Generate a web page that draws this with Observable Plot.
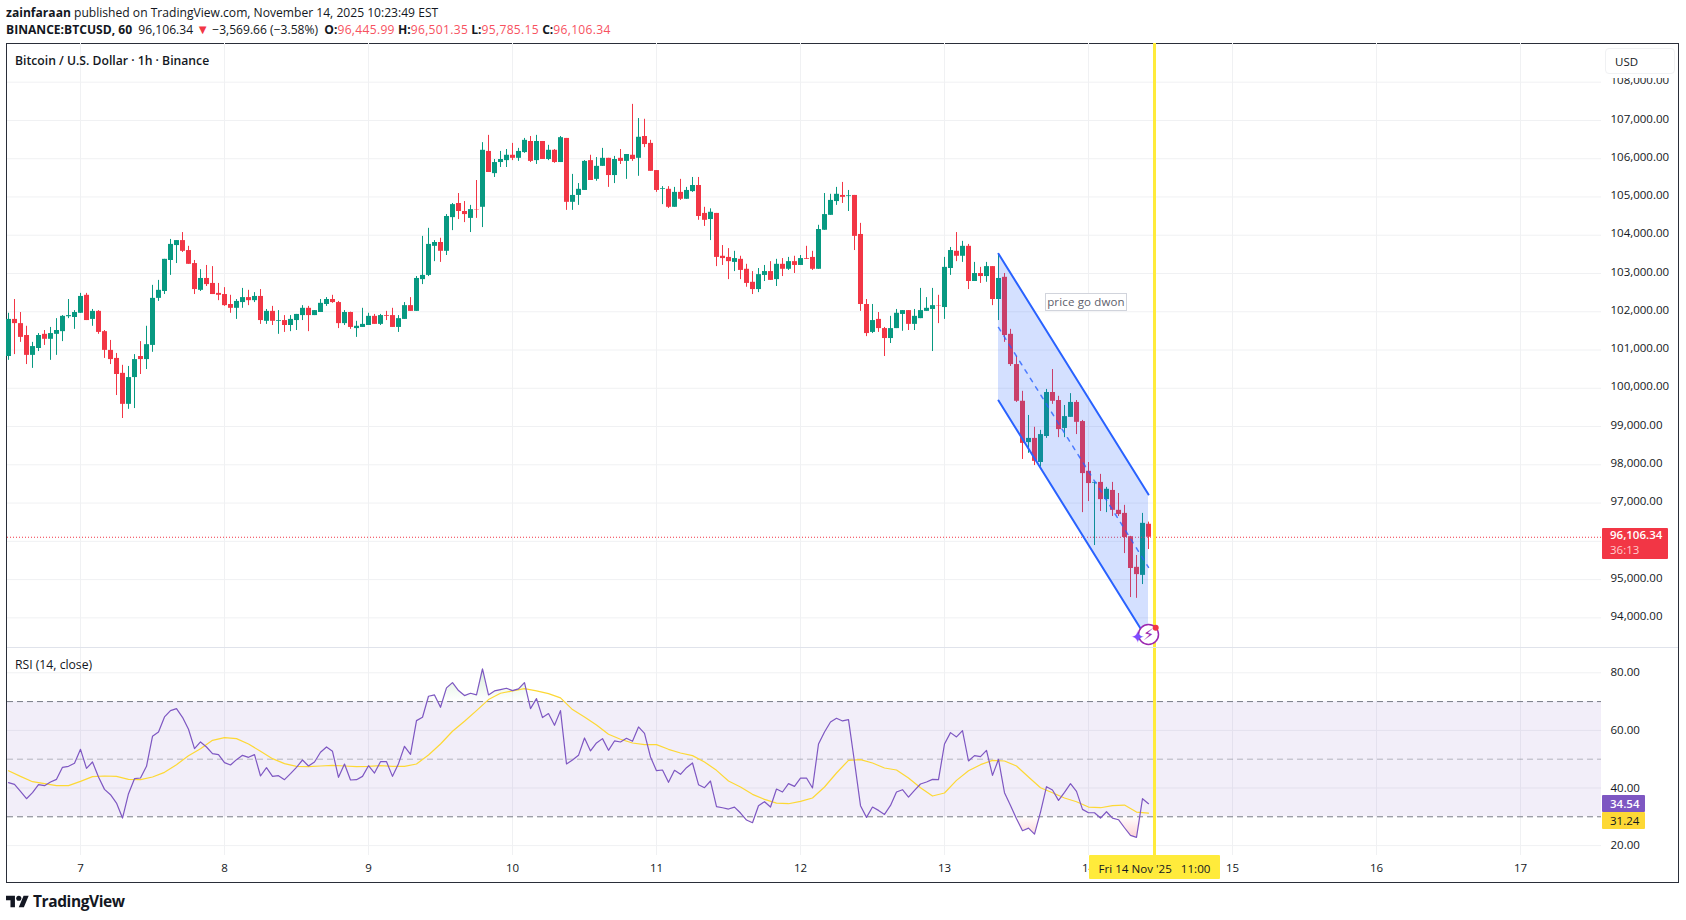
<!DOCTYPE html>
<html>
<head>
<meta charset="utf-8">
<script src="https://cdn.jsdelivr.net/npm/d3@7"></script>
<script src="https://cdn.jsdelivr.net/npm/@observablehq/plot@0.6"></script>
<style>
  html, body { margin: 0; background: #fff; }
  body { width: 1686px; height: 920px; position: relative; overflow: hidden; font-family: "Open Sans", sans-serif; color: #131722; }
  .abs { position: absolute; white-space: pre; }
  .hdr { left: 6px; font-size: 12.1px; line-height: 17px; }
  .hdr b { font-weight: 700; }
  .red { color: #f7525f; letter-spacing: 0.3px; }
  .badge { line-height: 17px; font-size: 11.5px; padding-left: 8px; box-sizing: border-box; border-radius: 1px; }
</style>
</head>
<body>
  <!-- chart frame -->
  <div class="abs" style="left:6px;top:43px;width:1673px;height:840px;box-sizing:border-box;border:1px solid #2a2e39"></div>
  <div id="chart"></div>

  <!-- pane separator -->
  <div class="abs" style="left:7px;top:647px;width:1671px;height:1px;background:#e0e3eb"></div>

  <div class="abs hdr" style="top:4px"><b>zainfaraan</b> published on TradingView.com, November 14, 2025 10:23:49 EST</div>
  <div class="abs hdr" style="top:21px"><b>BINANCE:BTCUSD, 60</b>  96,106.34 <span style="color:#f23645;font-size:13px">▼</span> −3,569.66 (−3.58%)  <b>O:</b><span class="red">96,445.99</span> <b>H:</b><span class="red">96,501.35</span> <b>L:</b><span class="red">95,785.15</span> <b>C:</b><span class="red">96,106.34</span></div>
  <div class="abs" style="left:15px;top:52px;font-size:12.2px;line-height:18px;font-weight:600">Bitcoin / U.S. Dollar · 1h · Binance</div>
  <div class="abs" style="left:15px;top:656px;font-size:12.2px;line-height:18px">RSI (14, close)</div>

  <!-- currency button, covers the top tick like the original -->
  <div class="abs" style="left:1605px;top:48px;width:70px;height:26px;box-sizing:border-box;background:#fff;border:1px solid #f0f1f3;border-radius:4px;box-shadow:0 4px 0 #fff;font-size:11.5px;line-height:26px;padding-left:9px">USD</div>

  <!-- last price tag -->
  <div class="abs" style="left:1602px;top:528px;width:66px;height:31px;background:#f23645;color:#fff;padding-left:8px;box-sizing:border-box;font-size:11.5px;line-height:14.5px;border-radius:1px"><b style="font-weight:600">96,106.34</b>
<span style="color:#fcc">36:13</span></div>

  <!-- rsi tags -->
  <div class="abs badge" style="left:1602px;top:795px;width:43px;height:17px;background:#7e57c2;color:#fff;font-weight:600">34.54</div>
  <div class="abs badge" style="left:1602px;top:812px;width:43px;height:17px;background:#fdd835;color:#131722">31.24</div>

  <!-- drawing label -->
  <div class="abs" style="left:1045px;top:293px;width:82px;height:18px;box-sizing:border-box;background:#fff;border:1px solid #d1d4dc;font-size:11.5px;line-height:16px;text-align:center;letter-spacing:0.15px;color:#5d606b">price go dwon</div>

  <!-- crosshair time tag -->
  <div class="abs" style="left:1089px;top:855px;width:131px;height:24px;background:#ffeb3b;font-size:11.6px;line-height:27px;text-align:center;border-radius:1px">Fri 14 Nov '25   11:00</div>

  <!-- logo -->
  <svg class="abs" style="left:6px;top:895px" width="23" height="13" viewBox="0 4 36 18"><path fill="#131722" d="M14 22H7V11H0V4h14v18zM28 22h-8l7.5-18h8L28 22z"/><circle fill="#131722" cx="20" cy="8" r="4"/></svg>
  <div class="abs" style="left:33px;top:890px;font-size:15.5px;line-height:23px;font-weight:700;letter-spacing:-0.4px">TradingView</div>

<script>
// candles, 1h bars, first bar is 12 hours before the "7" tick
const opens = [
  100830,101800,101690,101380,100860,101040,101410,101280,101410,101480,101870,101850,
  101960,102430,101800,102010,101480,100990,100780,100390,99580,100280,100830,100750,101120,102350,102530,103340,103730,103860,103600,103260,102560,102870,102740,102480,
  102450,102190,102090,102240,102370,102290,102400,101750,102010,101750,101770,101640,101770,101900,102090,101900,101980,102190,102320,102240,101690,101980,101560,101590,
  101640,101880,101670,101900,101900,101590,101800,102160,102010,102840,102950,103710,103810,103580,104460,104830,104620,104440,104670,104730,106190,105610,105900,105950,
  106090,106010,106160,106450,105950,106450,105980,106220,105900,106530,104860,105040,105170,105950,105460,105800,106010,105560,106010,105930,106090,106010,106580,106400,
  105690,105200,105200,104730,105120,104940,105140,105300,104570,104410,104570,103450,103420,103290,103370,103110,102770,102580,102950,103050,102840,103240,103110,103310,
  103210,103390,103420,103110,104130,104520,104880,105040,105010,105040,104020,102190,101460,101800,101560,101300,101560,101930,102030,101670,101820,102010,102060,102160,
  102110,103130,103580,103450,103710,102790,103000,102920,103180,102320,102900,101410,100620,99660,98580,98690,98060,98740,99890,99680,98950,99240,99630,99130,
  97830,97520,97540,97090,97330,96810,96730,96120,95320,95110,96445.99
];
const highs = [
  101960,102320,101980,101620,101200,101430,101510,101590,101820,101900,102320,102030,
  102480,102480,102060,102030,101510,101250,100910,100600,100570,100880,101220,101620,102690,102820,103370,103890,103860,104070,103710,103340,103100,103210,103180,102740,
  102630,102430,102320,102610,102560,102500,102580,102060,102140,102030,101900,101900,101930,102160,102140,102030,102320,102370,102430,102270,102030,101990,101750,102090,
  101960,101930,101930,102010,102090,101900,102240,102370,102920,103970,104180,103860,103920,104540,104830,105090,104880,104780,105430,106420,106610,105980,106190,106240,
  106400,106270,106530,106580,106610,106450,106350,106240,106580,106530,105590,105350,105950,106090,106030,106270,106010,106060,106240,106110,107420,107050,107030,106480,
  105690,105270,105270,105250,105460,105250,105510,105510,104730,104690,104570,103730,103650,103580,103450,103240,103050,103130,103210,103310,103370,103390,103420,103450,
  103470,103710,103580,104260,105090,105070,105250,105380,105170,105040,104310,102320,102190,101980,101590,101880,102060,102030,102030,102060,102610,102370,102610,102430,
  103420,103680,104070,103840,103760,103290,103160,103290,103180,103500,103000,101540,100830,99920,99290,98980,98900,99970,100490,99790,99550,99860,99680,99160,
  98060,97540,97750,97410,97540,97250,96940,96130,95630,96730,96501.35
];
const lows = [
  100730,100880,101200,100620,100520,100960,101120,100730,100860,101220,101820,101540,
  101960,101770,101620,101410,100780,100620,99810,99210,99450,99470,100360,100490,100940,102270,102450,102950,103260,103550,103240,102450,102530,102660,102450,102290,
  102140,101960,101800,102090,102160,102240,101670,101670,101640,101410,101460,101480,101510,101770,101480,101900,101980,102140,102220,101560,101640,101540,101330,101590,
  101640,101670,101640,101770,101590,101460,101800,102010,102010,102710,102920,103310,103290,103470,104120,104410,104330,104070,104440,104200,105640,105510,105770,105770,
  105950,105930,106140,105900,105850,105980,105950,105880,105900,104650,104650,104780,105170,105430,105410,105800,105250,105350,105850,105460,105930,105540,106290,105670,
  105120,104800,104700,104730,104910,104940,105120,104390,104230,103860,103180,103210,102840,103050,102840,102640,102450,102500,102790,102820,102660,102920,103080,103000,
  103210,103370,103080,103110,104130,104520,104780,104830,104620,103600,102010,101350,101430,101460,100830,101170,101560,101490,101510,101510,101820,102010,100960,101690,
  101800,102950,103310,103290,102580,102790,102740,102770,102160,101770,101200,100570,99630,98140,98300,97980,97940,98690,99580,98710,98710,99240,98790,96750,
  97040,95890,96780,96750,96650,96650,95680,94530,94510,94870,95785.15
];
const closes = [
  101800,101690,101330,100860,101090,101380,101280,101430,101510,101880,101900,101980,
  102400,101770,102010,101460,100990,100750,100360,99580,100280,100750,100750,101140,102350,102560,103370,103760,103860,103580,103240,102580,102870,102710,102450,102430,
  102160,102090,102270,102370,102290,102400,101770,102010,101750,101770,101640,101800,101930,102090,101900,102030,102220,102320,102240,101690,101980,101590,101620,101670,
  101880,101670,101900,101880,101590,101820,102160,102010,102870,102950,103760,103810,103580,104490,104800,104620,104540,104670,104660,106220,105640,105900,105980,106090,
  106010,106190,106480,105930,106450,105980,106220,105900,106550,104860,105040,105200,105930,105430,105800,106010,105560,105980,105930,106110,105980,106560,106370,105670,
  105170,105220,104730,105120,104940,105170,105300,104490,104390,104600,103420,103390,103310,103390,103080,102740,102580,102970,103050,102820,103240,103110,103310,103210,
  103390,103370,103110,104150,104540,104910,105070,104990,105030,103970,102190,101430,101770,101560,101300,101560,101960,102030,101670,101880,102030,102090,102160,102150,
  103160,103600,103450,103710,102790,103000,102920,103180,102320,102870,101380,100620,99660,98560,98690,98090,98790,99890,99660,98920,99260,99630,99110,97770,
  97510,97540,97090,97360,96810,96700,96100,95290,95130,96470,96106.34
];

// rsi, one value per bar
const rsi = [
  41.84,41.26,38.83,36.28,38.37,41.15,40.80,42.07,43.00,47.17,47.52,48.56,
  53.43,46.82,49.03,43.81,39.52,37.67,34.77,29.56,38.02,43.23,43.46,47.52,57.95,59.46,64.67,66.87,67.57,64.55,60.38,53.66,55.98,54.24,51.92,51.58,
  48.79,47.98,49.84,51.34,50.65,51.58,44.16,47.06,44.04,44.27,42.88,44.97,47.17,49.72,47.64,49.03,52.39,54.24,52.73,43.70,48.33,42.77,42.88,44.04,
  47.75,45.20,49.14,49.14,44.04,48.45,54.47,51.69,63.39,64.55,71.85,72.32,68.03,74.75,76.60,73.82,72.09,72.90,72.32,81.36,72.32,73.71,74.17,74.63,
  73.82,74.40,76.60,67.57,71.04,64.44,65.83,61.77,66.87,48.33,49.72,51.34,57.37,52.85,55.63,57.14,53.08,56.33,55.98,57.25,56.21,61.19,58.99,50.76,
  46.01,46.24,41.96,46.13,44.74,47.06,48.68,41.15,40.10,42.42,33.50,33.15,32.69,33.38,31.30,28.87,27.94,33.85,35.24,33.38,39.64,38.60,41.50,40.57,
  43.46,43.46,40.00,55.28,59.46,62.93,64.21,63.28,63.74,49.03,33.85,29.79,33.38,32.22,30.83,33.96,38.60,39.41,36.86,39.18,41.38,42.07,43.00,42.88,
  55.28,59.22,57.72,59.92,49.37,51.23,50.88,53.08,44.39,49.95,38.37,33.96,29.33,25.16,26.08,24.00,31.65,40.45,39.29,35.70,38.48,41.50,38.83,32.57,
  31.41,31.41,29.56,31.76,29.56,28.98,26.20,23.53,22.84,36.28,34.54
];
// rsi moving average, read every second bar
const rsiMa = [
  46.01,44.04,42.19,41.50,40.80,40.80,42.31,43.93,44.16,44.04,43.00,42.88,43.81,45.43,48.10,51.23,53.66,56.56,57.49,57.14,55.28,52.73,50.18,48.45,47.52,47.40,47.64,47.87,47.64,47.40,47.52,47.75,47.52,
  47.52,48.33,51.46,55.28,59.69,63.16,66.87,70.70,72.90,73.71,74.52,73.71,72.78,71.27,67.22,64.67,61.89,58.64,56.91,55.63,55.05,55.05,53.43,52.15,51.23,49.03,46.13,42.42,40.34,37.79,36.05,34.77,34.54,35.35,
  36.51,40.34,45.20,49.61,49.84,48.68,46.94,46.24,43.46,40.10,37.21,38.25,42.65,46.01,48.10,49.61,49.37,47.64,43.81,40.10,38.37,36.51,35.24,33.38,33.15,33.85,34.08,31.65,31.24
];

// ticks
const priceTicks = [94000,95000,96000,97000,98000,99000,100000,101000,102000,103000,104000,105000,106000,107000,108000];
const rsiTicks = [20,40,60,80];
const dayLabels = [7,8,9,10,11,12,13,14,15,16,17];
const lastPrice = 96106.34;

// channel drawing, anchored on bar hours
const channelHours = [153,178];
const channelUpper = [103515,97224];
const channelMid = [101590,95320];
const channelLower = [99680,93390];
const cursorHour = 179;

// bars are 6px apart, day ticks 144px apart
const xDomain = [-73/6, 1521/6];
const hours = closes.map((_, i) => i - 12);
const dayHours = dayLabels.map((_, i) => i * 24);
const bars = hours.map((h, i) => ({h, o: opens[i], hi: highs[i], lo: lows[i], c: closes[i], up: closes[i] >= opens[i]}));
const candleColor = d => d.up ? "#089981" : "#f23645";
const channel = channelHours.map((h, i) => ({h, upper: channelUpper[i], mid: channelMid[i], lower: channelLower[i]}));
const rsiRows = hours.map((h, i) => ({h, r: rsi[i]}));
const maRows = rsiMa.map((r, i) => ({h: i * 2 - 12, r}));

const gridColor = "#f0f1f3";
const baseStyle = {position: "absolute", left: 0, background: "none", overflow: "visible", fontFamily: '"Open Sans", sans-serif', fontSize: "11.5px", color: "#131722"};

// price pane
const pricePlot = Plot.plot({
  width: 1686, height: 604,
  marginLeft: 7, marginRight: 85, marginTop: 0, marginBottom: 0,
  style: {...baseStyle, top: "43px"},
  x: {type: "linear", domain: xDomain, range: [7, 1601], axis: null},
  y: {domain: [93225, 109011], range: [604, 0]},
  marks: [
    Plot.gridX(dayHours, {stroke: gridColor, strokeOpacity: 1}),
    Plot.gridY(priceTicks, {stroke: gridColor, strokeOpacity: 1}),
    // the 96,000 label sits under the last price tag, so it is left out
    Plot.axisY({anchor: "right", ticks: priceTicks.filter(t => t !== 96000), tickSize: 0, tickPadding: 9, dy: -1.5, label: null, fill: "#131722", tickFormat: d3.format(",.2f")}),
    Plot.ruleX(bars, {x: "h", y1: "lo", y2: "hi", stroke: candleColor, strokeWidth: 1}),
    Plot.ruleX(bars, {x: "h", y1: "o", y2: "c", stroke: candleColor, strokeWidth: 5}),
    Plot.ruleY([lastPrice], {stroke: "#f23645", strokeDasharray: "1,2"}),
    // channel goes over the candles, that is what tints them
    Plot.areaY(channel, {x: "h", y1: "lower", y2: "upper", fill: "#2962ff", fillOpacity: 0.2}),
    Plot.lineY(channel, {x: "h", y: "upper", stroke: "#2962ff", strokeWidth: 2}),
    Plot.lineY(channel, {x: "h", y: "lower", stroke: "#2962ff", strokeWidth: 2}),
    Plot.lineY(channel, {x: "h", y: "mid", stroke: "#2962ff", strokeOpacity: 0.8, strokeWidth: 1.5, strokeDasharray: "4,6"}),
    Plot.ruleX([cursorHour], {stroke: "#ffeb3b", strokeWidth: 3}),
    // publish marker at the channel end
    Plot.dot([{h: 178, p: 93565}], {x: "h", y: "p", r: 10, fill: "#fff", stroke: "#9c27b0", strokeWidth: 1.5}),
    Plot.text([{h: 178, p: 93565}], {x: "h", y: "p", text: () => "⚡", fill: "#9c27b0", fontSize: 16, fontFamily: "DejaVu Sans"}),
    Plot.text([{h: 176.2, p: 93478}], {x: "h", y: "p", text: () => "✦", fill: "#7c4dff", fontSize: 17, fontFamily: "DejaVu Sans"}),
    Plot.dot([{h: 179.2, p: 93740}], {x: "h", y: "p", r: 3, fill: "#f23645"})
  ]
});

// rsi pane with the time axis under it
const rsiPlot = Plot.plot({
  width: 1686, height: 236,
  marginLeft: 7, marginRight: 85, marginTop: 0, marginBottom: 28,
  style: {...baseStyle, top: "647px"},
  x: {type: "linear", domain: xDomain, range: [7, 1601]},
  y: {domain: [16.56, 88.78], range: [208, 0]},
  marks: [
    Plot.gridX(dayHours, {stroke: gridColor, strokeOpacity: 1}),
    Plot.gridY(rsiTicks, {stroke: gridColor, strokeOpacity: 1}),
    Plot.axisY({anchor: "right", ticks: rsiTicks, tickSize: 0, tickPadding: 9, label: null, fill: "#131722", tickFormat: d3.format(".2f")}),
    Plot.axisX({anchor: "bottom", ticks: dayHours, tickSize: 0, tickPadding: 8, label: null, fill: "#131722", tickFormat: (d, i) => dayLabels[i]}),
    Plot.rect([0], {x1: xDomain[0], x2: xDomain[1], y1: 30, y2: 70, fill: "#7e57c2", fillOpacity: 0.1}),
    Plot.ruleY([70, 30], {stroke: "#787b86", strokeDasharray: "6,4"}),
    Plot.ruleY([50], {stroke: "#787b86", strokeOpacity: 0.5, strokeDasharray: "6,4"}),
    () => d3.create("svg:defs").html(`
      <linearGradient id="obFill" x1="0" y1="0" x2="0" y2="1"><stop offset="0" stop-color="#4caf50" stop-opacity="0.22"/><stop offset="1" stop-color="#4caf50" stop-opacity="0"/></linearGradient>
      <linearGradient id="osFill" x1="0" y1="0" x2="0" y2="1"><stop offset="0" stop-color="#f23645" stop-opacity="0"/><stop offset="1" stop-color="#f23645" stop-opacity="0.22"/></linearGradient>`).node(),
    Plot.areaY(rsiRows, {x: "h", y1: 70, y2: d => Math.max(d.r, 70), fill: "url(#obFill)"}),
    Plot.areaY(rsiRows, {x: "h", y1: 30, y2: d => Math.min(d.r, 30), fill: "url(#osFill)"}),
    Plot.lineY(maRows, {x: "h", y: "r", stroke: "#fdd835", strokeWidth: 1.2}),
    Plot.lineY(rsiRows, {x: "h", y: "r", stroke: "#7e57c2", strokeWidth: 1.2}),
    Plot.ruleX([cursorHour], {stroke: "#ffeb3b", strokeWidth: 3})
  ]
});

document.getElementById("chart").append(pricePlot, rsiPlot);
</script>
</body>
</html>
